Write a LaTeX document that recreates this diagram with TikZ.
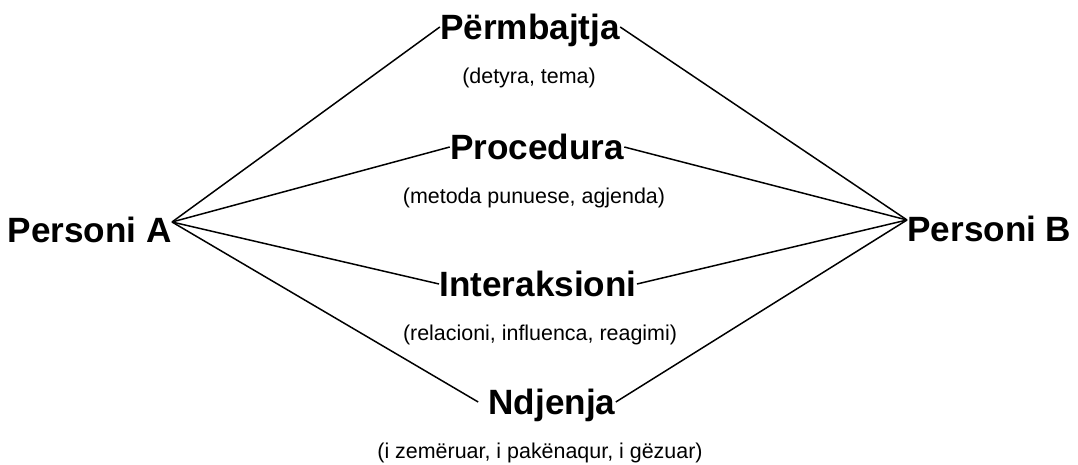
\documentclass[tikz,border=0pt]{standalone}
\usepackage{fontspec}
\setmainfont{Liberation Sans}
\begin{document}
\begin{tikzpicture}[x=0.02cm,y=-0.02cm,
  person/.style={font=\fontsize{20}{24}\selectfont\bfseries, inner sep=0pt, text depth=0pt},
  title/.style={font=\fontsize{20}{24}\selectfont\bfseries, inner sep=0pt, text height=14.3pt, text depth=0pt},
  sub/.style={font=\fontsize{12.2}{14}\selectfont, inner sep=0pt},
  link/.style={draw=black, line width=0.85pt}]
\useasboundingbox (0,0) rectangle (1078,465);
\node[person, text height=22.8pt, anchor=east] (pa) at (172,222) {Personi A};
\node[person, text height=25pt, anchor=west] (pb) at (907,220) {Personi B};
\node[title] (t1) at (530,27) {Përmbajtja};
\node[title] (t2) at (537,147) {Procedura};
\node[title] (t3) at (538,284) {Interaksioni};
\node[title] (t4) at (552,402) {Ndjenja};
\node[sub] (s1) at (529,78) {(detyra, tema)};
\node[sub] (s2) at (534,198) {(metoda punuese, agjenda)};
\node[sub] (s3) at (540,335) {(relacioni, influenca, reagimi)};
\node[sub] (s4) at (540,453) {(i zemëruar, i pakënaqur, i gëzuar)};
\foreach \t in {t1,t2,t3}{
  \draw[link] (pa.east) -- (\t.west);
  \draw[link] (\t.east) -- (pb.west);
}
\draw[link] (pa.east) -- ([xshift=-10*0.02cm]t4.west);
\draw[link] (t4.east) -- (pb.west);
\end{tikzpicture}
\end{document}
